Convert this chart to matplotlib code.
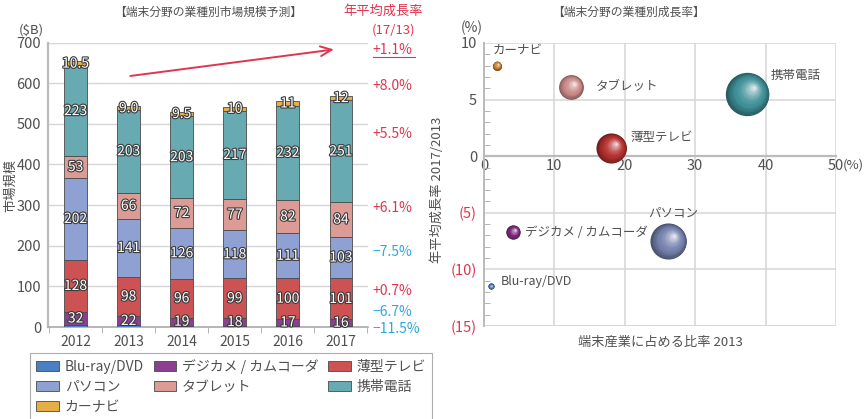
import numpy as np
import matplotlib
matplotlib.use("Agg")
import matplotlib.pyplot as plt
from matplotlib.patches import Patch
from matplotlib.colors import to_rgb
from matplotlib.transforms import offset_copy, blended_transform_factory
import matplotlib.patheffects as pe

plt.rcParams['font.family'] = ['Noto Sans CJK JP', 'DejaVu Sans']

# ---- data ----
years = ["2012", "2013", "2014", "2015", "2016", "2017"]
categories = ["Blu-ray/DVD", "デジカメ / カムコーダ", "薄型テレビ", "パソコン",
              "タブレット", "携帯電話", "カーナビ"]
bluray = [5, 4, 3.5, 3, 2.7, 2.5]
digicam = [32, 22, 19, 18, 17, 16]
tv = [128, 98, 96, 99, 100, 101]
pc = [202, 141, 126, 118, 111, 103]
tablet = [53, 66, 72, 77, 82, 84]
phone = [223, 203, 203, 217, 232, 251]
carnavi = [10.5, 9.0, 9.5, 10, 11, 12]
series = [bluray, digicam, tv, pc, tablet, phone, carnavi]

# CAGR 2017/2013 (%) per category, and total
cagr = [-11.5, -6.7, 0.7, -7.5, 6.1, 5.5, 8.0]
cagr_total = 1.1
# share of terminal industry 2013 (%)
share2013 = [0.95, 4.1, 18.1, 26.2, 12.3, 37.4, 1.8]

colors = ["#4a7fc4", "#8b3f90", "#cd5253", "#8fa1d2", "#dd9b96", "#67aab1", "#e6ae46"]
sphere_colors = ["#3d6fb5", "#7a2878", "#b3302e", "#7480ac", "#c98886", "#3f8f97", "#c27a2c"]

TXT = "#505050"
RED = "#e0354f"
BLUE = "#2ba7e2"

fig = plt.figure(figsize=(8.66, 4.19), dpi=100)

# ================= left: stacked bars =================
ax = fig.add_axes([48 / 866, 92 / 419, 320 / 866, 284.4 / 419])
x = np.arange(len(years))
bottom = np.zeros(len(years))
outline = [pe.withStroke(linewidth=1.6, foreground="#3a3a3a")]
for k, (vals, col) in enumerate(zip(series, colors)):
    vals = np.array(vals, dtype=float)
    ax.bar(x, vals, 0.43, bottom=bottom, color=col, edgecolor="#4a4a4a",
           linewidth=0.6, zorder=3)
    if k > 0:
        for xi, b, v in zip(x, bottom, vals):
            if k == 6:
                s = f"{v:.1f}" if (v < 10 or v % 1) else f"{v:.0f}"
            else:
                s = f"{v:.0f}"
            ax.text(xi, b + v / 2, s, ha="center", va="center", fontsize=10,
                    color="white", path_effects=outline, zorder=5)
    bottom += vals

ax.set_xlim(-0.52, 5.51)
ax.set_ylim(0, 700)
ax.set_yticks(range(0, 701, 100))
ax.set_xticks(x)
ax.set_xticklabels(years)
ax.set_xticks(np.arange(-0.5, 5.6, 1), minor=True)
ax.tick_params(axis="x", which="major", length=0, labelsize=10, labelcolor=TXT, pad=6)
ax.tick_params(axis="x", which="minor", length=4, color="#aaaaaa", direction="out")
ax.tick_params(axis="y", length=0, labelsize=10.5, labelcolor=TXT, pad=5)
ax.grid(axis="y", color="#d6d6d6", lw=1, zorder=0)
for sp in ["top", "right"]:
    ax.spines[sp].set_visible(False)
ax.spines["left"].set_color("#bbbbbb")
ax.spines["left"].set_linewidth(1.6)
ax.spines["bottom"].set_color("#aaaaaa")
ax.spines["bottom"].set_linewidth(1.2)

ax.annotate("", xy=(4.92, 684), xytext=(0.98, 617), annotation_clip=False,
            arrowprops=dict(arrowstyle="->,head_length=0.8,head_width=0.35",
                            color=RED, lw=1.4))

# CAGR labels on the right
label_y = [-5, 37, 88, 184, 293, 475, 593]
for c, yy in zip(cagr, label_y):
    s = f"+{c:.1f}%" if c > 0 else f"\u2212{abs(c):.1f}%"
    ax.text(5.60, yy, s, ha="left", va="center", fontsize=10,
            color=RED if c > 0 else BLUE, clip_on=False)
ax.text(5.60, 681, f"+{cagr_total:.1f}%", ha="left", va="center", fontsize=10,
        color=RED, clip_on=False)
ax.plot([5.60, 6.39], [664, 664], color=RED, lw=0.8, clip_on=False)

fig.text(208 / 866, 1 - 12 / 419, "【端末分野の業種別市場規模予測】", ha="center", va="center",
         fontsize=8.5, color=TXT)
fig.text(383 / 866, 1 - 11 / 419, "年平均成長率", ha="center", va="center",
         fontsize=9.5, color=RED)
fig.text(394 / 866, 1 - 30 / 419, "(17/13)", ha="center", va="center",
         fontsize=9.5, color=RED)
fig.text(31 / 866, 1 - 30 / 419, "($B)", ha="center", va="center", fontsize=9.5, color=TXT)
fig.text(11 / 866, 1 - 185 / 419, "市場規模", ha="center", va="center", rotation=90,
         fontsize=9.5, color=TXT)

# legend (column-major ordering to read row-wise)
order = [0, 3, 6, 1, 4, 2, 5]
handles = [Patch(facecolor=colors[i], edgecolor="#4a4a4a", linewidth=0.6) for i in order]
labels = [categories[i] for i in order]
leg = fig.legend(handles, labels, loc="upper left", ncol=3,
                 bbox_to_anchor=(30 / 866, 1 - 353 / 419),
                 borderaxespad=0, fontsize=10, frameon=True, fancybox=False,
                 handlelength=1.65, handleheight=0.75, labelspacing=0.42,
                 borderpad=0.45, handletextpad=0.4, columnspacing=0.7)
leg.get_frame().set_edgecolor("#999999")
leg.get_frame().set_linewidth(0.8)
for t in leg.get_texts():
    t.set_color(TXT)

# ================= right: bubbles =================
bx = fig.add_axes([484 / 866, 93 / 419, 352 / 866, 283 / 419])
bx.set_xlim(0, 50)
bx.set_ylim(-15, 10)


def mix(c1, c2, t):
    a, b = np.array(to_rgb(c1)), np.array(to_rgb(c2))
    return tuple(a + (b - a) * t)


def sphere(axis, xx, yy, s, base):
    r = np.sqrt(s) / 2.0
    n = 24
    dark = mix(base, "black", 0.35)
    for i in range(n):
        f = 1 - i / n
        t = i / (n - 1)
        if t < 0.3:
            col = mix(dark, base, t / 0.3)
        else:
            col = mix(base, "white", ((t - 0.3) / 0.7) ** 1.6 * 0.85)
        off = (1 - f) * r * 0.32
        tr = offset_copy(axis.transData, fig=axis.figure, x=off, y=off, units="points")
        axis.scatter([xx], [yy], s=s * f * f, color=col, transform=tr,
                     linewidths=0, zorder=4 + i * 0.01)


vals2013 = [s[1] for s in series]
for xs, yv, v, col in zip(share2013, cagr, vals2013, sphere_colors):
    sphere(bx, xs, yv, 4.8 * v, col)

# labels offset in pixels from bubble centres
label_off = [(10, 5), (12, 0), (19, 11), (-20, 28), (25, 1), (23, 18), (-4, 15)]
for xs, yv, name, (dx, dy) in zip(share2013, cagr, categories, label_off):
    bx.annotate(name, (xs, yv), xytext=(dx, dy), textcoords="offset pixels",
                ha="left", va="center", fontsize=9, color=TXT, zorder=10)

bx.set_xticks(range(0, 51, 10))
bx.set_xticklabels(["0", "10", "20", "30", "40", "50"])
bx.set_yticks([-15, -10, -5, 0, 5, 10])
bx.set_yticklabels(["(15)", "(10)", "(5)", "0", "5", "10"])
for lab, v in zip(bx.get_yticklabels(), [-15, -10, -5, 0, 5, 10]):
    lab.set_color(RED if v < 0 else TXT)
bx.set_yticks(np.arange(-15, 11, 1), minor=True)
bx.tick_params(axis="y", which="both", direction="in", length=4, color="#aaaaaa",
               labelsize=10.5, pad=5)
bx.tick_params(axis="y", which="major", length=0)
bx.tick_params(axis="x", length=0, labelsize=10.5, labelcolor=TXT, pad=2)
bx.grid(True, color="#d6d6d6", lw=1.1, zorder=0)
for sp in ["top", "right"]:
    bx.spines[sp].set_visible(False)
bx.spines["bottom"].set_position(("data", 0))
bx.spines["bottom"].set_color("#bbbbbb")
bx.spines["bottom"].set_linewidth(1.6)
bx.spines["left"].set_color("#bbbbbb")
bx.spines["left"].set_linewidth(1.4)
pct = offset_copy(blended_transform_factory(bx.transAxes, bx.transData),
                  fig=fig, x=5, y=-2, units="points")
bx.text(1.0, 0, "(%)", transform=pct, ha="left", va="top", fontsize=9.5, color=TXT)
bx.axhline(-15, color="#d6d6d6", lw=1.1, zorder=0)

fig.text(628 / 866, 1 - 12 / 419, "【端末分野の業種別成長率】", ha="center", va="center",
         fontsize=8.5, color=TXT)
fig.text(472 / 866, 1 - 28 / 419, "(%)", ha="center", va="center", fontsize=10, color=TXT)
fig.text(660 / 866, 1 - 342 / 419, "端末産業に占める比率 2013", ha="center", va="center",
         fontsize=9.5, color=TXT)
fig.text(437 / 866, 1 - 190 / 419, "年平均成長率 2017/2013", ha="center", va="center",
         rotation=90, fontsize=9.5, color=TXT)

fig.savefig("out.png", dpi=100)
